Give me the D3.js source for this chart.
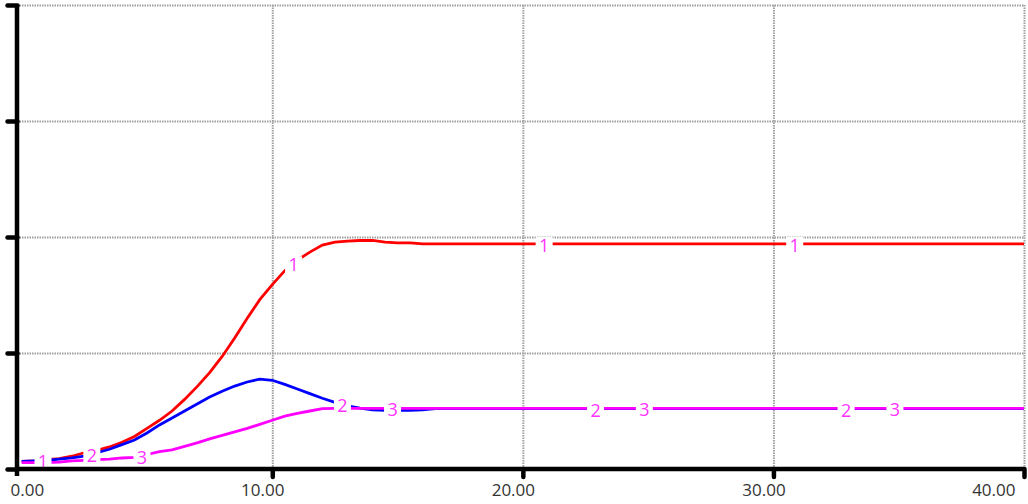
<!DOCTYPE html>
<html lang="en">
<head>
<meta charset="utf-8">
<title>Simulation run</title>
<script src="https://cdn.jsdelivr.net/npm/d3@7"></script>
<style>
  body { margin: 0; background: #fff; }
  .grid line { stroke: #a0a0a0; stroke-width: 2; stroke-dasharray: 1.5,1; }
  .grid path { display: none; }
  .x.axis path, .y.axis path { stroke: #000; stroke-width: 4.5; }
  .x.axis line, .y.axis line { stroke: #000; stroke-width: 4.5; stroke-linecap: round; }
  .x.axis text { font-family: "Open Sans", sans-serif; font-size: 17px; fill: #333; }
  .lbl text { font-family: "Open Sans", sans-serif; font-size: 18px; fill: #ff33ff; }
</style>
</head>
<body>
<script>
// time grid (half steps up to 16.5, then flat to the end)
var times = [0,0.5,1,1.5,2,2.5,3,3.5,4,4.5,5,5.5,6,6.5,7,7.5,8,8.5,9,9.5,10,10.5,11,11.5,12,12.5,13,13.5,14,14.5,15,15.5,16,16.5,40];

var series1 = [0.065,0.07,0.08,0.09,0.11,0.14,0.16,0.19,0.23,0.28,0.35,0.42,0.50,0.60,0.71,0.83,0.97,1.13,1.30,1.46,1.59,1.71,1.80,1.87,1.93,1.955,1.965,1.97,1.97,1.955,1.95,1.95,1.94,1.94,1.94];
var series2 = [0.065,0.07,0.075,0.085,0.095,0.11,0.14,0.17,0.21,0.25,0.31,0.38,0.44,0.50,0.56,0.62,0.67,0.715,0.75,0.775,0.765,0.73,0.69,0.65,0.61,0.575,0.545,0.525,0.51,0.505,0.505,0.505,0.51,0.52,0.52];
var series3 = [0.055,0.055,0.055,0.06,0.07,0.075,0.08,0.085,0.095,0.10,0.125,0.15,0.165,0.195,0.225,0.26,0.29,0.32,0.35,0.385,0.42,0.455,0.48,0.50,0.52,0.523,0.523,0.523,0.523,0.523,0.523,0.523,0.523,0.523,0.523];

var seriesNames = ["1", "2", "3"];
var seriesColors = ["#ff0000", "#0000ff", "#ff00ff"];
var labelTimes = [[0.85, 10.85, 20.85, 30.85], [2.8, 12.8, 22.9, 32.9], [4.8, 14.8, 24.85, 34.85]];

var xTicks = [0, 10, 20, 30, 40];
var yTicks = [0, 1, 2, 3, 4];

var w = 1028, h = 504;
var padL = 17, padT = 5, padB = 469, padR = 1024;

var svg = d3.select("body").append("svg")
  .attr("width", w)
  .attr("height", h);

var x = d3.scaleLinear().domain([0, 40]).range([21.7, padR]);
var y = d3.scaleLinear().domain([0, 4]).range([padB, padT]);

// grid
svg.append("g")
  .attr("class", "grid")
  .attr("transform", "translate(0," + padB + ")")
  .call(d3.axisBottom(x).tickValues(xTicks.slice(1)).tickSize(-(padB - padT)).tickFormat(""));

svg.append("g")
  .attr("class", "grid")
  .attr("transform", "translate(" + padL + ",0)")
  .call(d3.axisLeft(y).tickValues(yTicks.slice(1)).tickSize(-(padR - padL)).tickFormat(""));

// lines
var allSeries = [series1, series2, series3];
var line = d3.line()
  .x(function(d, i) { return x(times[i]); })
  .y(function(d) { return y(d); });

svg.append("g").selectAll("path")
  .data(allSeries)
  .enter()
  .append("path")
  .attr("fill", "none")
  .attr("stroke", function(d, i) { return seriesColors[i]; })
  .attr("stroke-width", 2.8)
  .attr("d", line);

// value of a series at time t, for placing its labels
function valueAt(s, t) {
  for (var i = 1; i < times.length; i++) {
    if (t <= times[i]) {
      var f = (t - times[i - 1]) / (times[i] - times[i - 1]);
      return s[i - 1] + f * (s[i] - s[i - 1]);
    }
  }
  return s[s.length - 1];
}

var labels = [];
labelTimes.forEach(function(ts, si) {
  ts.forEach(function(t) {
    labels.push({ name: seriesNames[si], t: t, v: valueAt(allSeries[si], t) });
  });
});

var lbl = svg.append("g").attr("class", "lbl").selectAll("g")
  .data(labels)
  .enter()
  .append("g")
  .attr("transform", function(d) { return "translate(" + x(d.t) + "," + (y(d.v) + 1.5) + ")"; });

lbl.append("rect")
  .attr("x", -8.5).attr("y", -8.5)
  .attr("width", 17).attr("height", 17)
  .attr("fill", "#fff");

lbl.append("text")
  .attr("text-anchor", "middle")
  .attr("dy", "0.36em")
  .text(function(d) { return d.name; });

// axes
var yAxis = svg.append("g")
  .attr("class", "y axis")
  .attr("transform", "translate(" + padL + ",0)")
  .call(d3.axisLeft(y).tickValues(yTicks).tickSize(10).tickSizeOuter(0).tickFormat(""));
yAxis.select(".domain").attr("d", "M0," + padT + "V" + (padB + 7));
yAxis.selectAll(".tick line").attr("transform", "translate(0.5,0)");

var xAxis = svg.append("g")
  .attr("class", "x axis")
  .attr("transform", "translate(0," + padB + ")")
  .call(d3.axisBottom(x).tickValues(xTicks).tickSize(8).tickSizeOuter(0).tickFormat(d3.format(".2f")));
xAxis.select(".domain").attr("d", "M" + padL + ",0H" + padR);
xAxis.selectAll(".tick").filter(function(d) { return d === 0; }).select("line").remove();

xAxis.selectAll("text")
  .attr("y", 27)
  .attr("dy", 0)
  .each(function(d) {
    var bb = this.getBBox();
    var tx = x(d);
    var cx = tx - 10;
    if (cx - bb.width / 2 < 10) cx = 10 + bb.width / 2;
    if (cx + bb.width / 2 > 1015) cx = 1015 - bb.width / 2;
    d3.select(this).attr("x", cx - tx);
  });
</script>
</body>
</html>
